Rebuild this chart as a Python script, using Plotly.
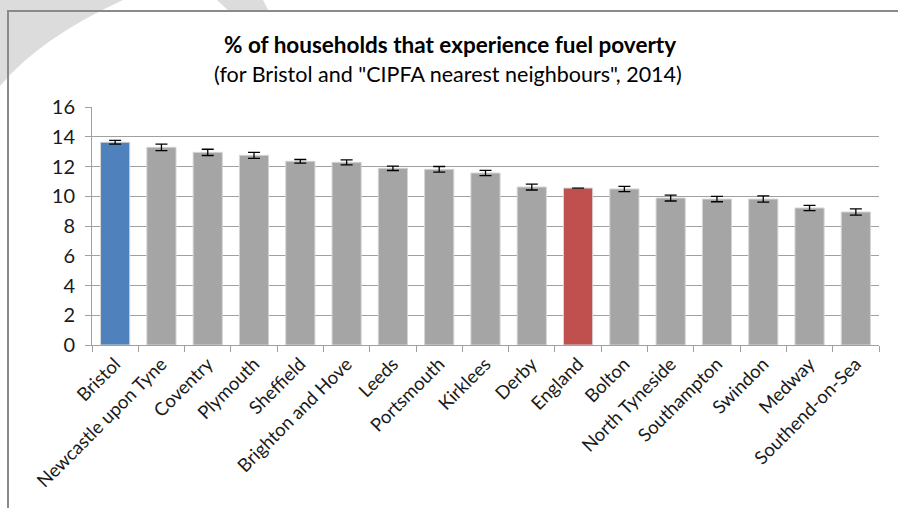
import plotly.graph_objects as go

categories = ["Bristol", "Newcastle upon Tyne", "Coventry", "Plymouth", "Sheffield",
              "Brighton and Hove", "Leeds", "Portsmouth", "Kirklees", "Derby", "England",
              "Bolton", "North Tyneside", "Southampton", "Swindon", "Medway", "Southend-on-Sea"]
values = [13.63, 13.29, 12.95, 12.75, 12.35, 12.28, 11.88, 11.81, 11.56, 10.62, 10.55,
          10.49, 9.88, 9.81, 9.81, 9.21, 8.94]
errors = [0.12, 0.22, 0.21, 0.20, 0.12, 0.17, 0.15, 0.19, 0.18, 0.20, 0.0,
          0.18, 0.20, 0.18, 0.21, 0.18, 0.21]
y_ticks = [0, 2, 4, 6, 8, 10, 12, 14, 16]

BLUE, RED, GREY = "#4F81BD", "#C0504D", "#A5A5A5"
colors = [BLUE if c == "Bristol" else RED if c == "England" else GREY for c in categories]

W, H = 898, 508
L, R, T, B = 92, 879, 107, 345  # plot area in pixels


def px(x):
    return (x - L) / (R - L)


def py(y):
    return (B - y) / (B - T)


fig = go.Figure(go.Bar(
    x=categories, y=values,
    marker=dict(color=colors, line=dict(color="#d4d4d4", width=1)),
    error_y=dict(type="data", array=errors, visible=True, color="black", thickness=1.3, width=6),
    width=0.63,
))

font = "Lato, Carlito, Calibri, sans-serif"

shapes = []
# upper stripe (behind frame)
shapes.append(dict(type="path", xref="paper", yref="paper", layer="below",
                   path=f"M{px(217)},{py(0)} L{px(263)},{py(0)} L{px(270)},{py(14)} L{px(232)},{py(14)} Z",
                   fillcolor="#dcdcdc", line=dict(width=0)))
# frame fill
shapes.append(dict(type="rect", xref="paper", yref="paper", layer="below",
                   x0=px(8), y0=py(530), x1=px(920), y1=py(11),
                   fillcolor="white", line=dict(width=0)))
# left stripe
shapes.append(dict(type="path", xref="paper", yref="paper", layer="below",
                   path=(f"M{px(0)},{py(0)} L{px(123)},{py(0)} Q{px(40)},{py(38)} {px(0)},{py(86)} Z"),
                   fillcolor="#dcdcdc", line=dict(width=0)))
# frame outline
shapes.append(dict(type="rect", xref="paper", yref="paper", layer="below",
                   x0=px(8), y0=py(530), x1=px(920), y1=py(11),
                   fillcolor="rgba(0,0,0,0)", line=dict(color="#8a8a8a", width=2)))

annotations = [
    dict(text="<b>% of households that experience fuel poverty</b>", xref="paper", yref="paper",
         x=px(450), y=py(44), xanchor="center", yanchor="middle", showarrow=False,
         font=dict(family=font, size=22.5, color="black")),
    dict(text="(for Bristol and \"CIPFA nearest neighbours\", 2014)", xref="paper", yref="paper",
         x=px(448), y=py(74), xanchor="center", yanchor="middle", showarrow=False,
         font=dict(family=font, size=21.5, color="black")),
]

fig.update_layout(
    width=W, height=H,
    margin=dict(l=L, r=W - R, t=T, b=H - B),
    paper_bgcolor="white", plot_bgcolor="rgba(0,0,0,0)",
    showlegend=False,
    shapes=shapes, annotations=annotations,
    font=dict(family=font, size=18, color="#1a1a1a"),
    bargap=0.37,
)
fig.update_yaxes(range=[0, 16], tickvals=y_ticks, showgrid=True, gridcolor="#a0a0a0", gridwidth=1,
                 showline=True, linecolor="#a0a0a0", linewidth=1, ticks="outside", ticklen=6,
                 tickcolor="#a0a0a0", tickfont=dict(family=font, size=20, color="#1a1a1a"),
                 ticklabelstandoff=6, zeroline=False, fixedrange=True)
fig.update_xaxes(showline=True, linecolor="#a0a0a0", linewidth=1, ticks="outside", ticklen=6,
                 tickcolor="#a0a0a0", tickson="boundaries", tickangle=-45,
                 tickfont=dict(family=font, size=18.5, color="#1a1a1a"), showgrid=False,
                 fixedrange=True)

fig.write_html("out.html", post_script="document.body.style.margin='0';",
               config={"displayModeBar": False, "staticPlot": True})
